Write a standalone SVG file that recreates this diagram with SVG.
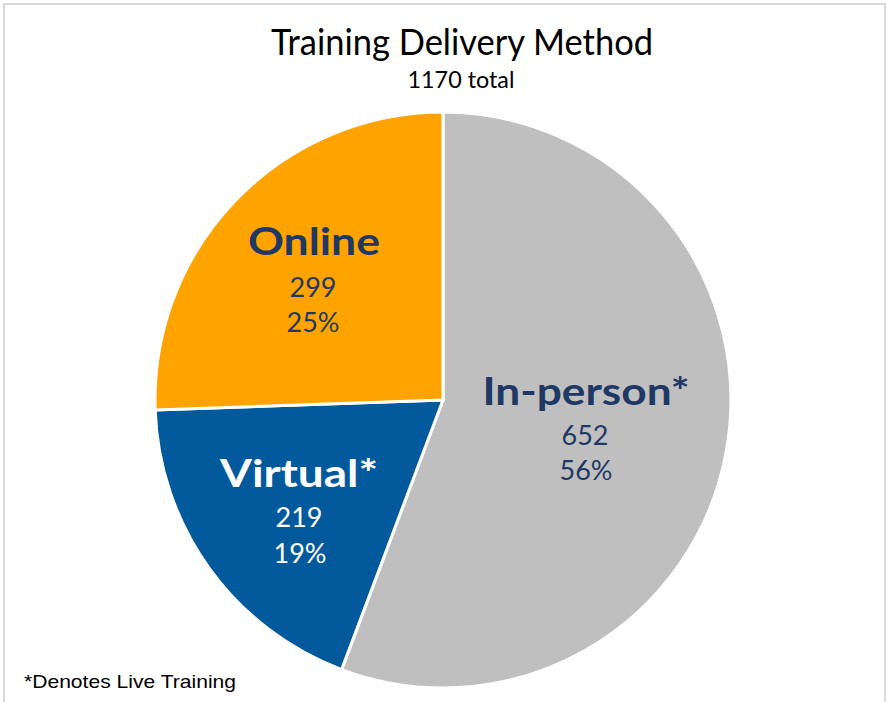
<svg xmlns="http://www.w3.org/2000/svg" width="886" height="702" viewBox="0 0 886 702">
<style>
.t{font-family:Lato,"Open Sans","Liberation Sans",sans-serif;text-anchor:middle}
.lbl{font-weight:bold;font-size:38px}
.num{font-size:27px}
.dark{fill:#1F3864}
.light{fill:#FFFFFF}
.slice{stroke:#FFFFFF;stroke-width:3;stroke-linejoin:miter}
</style>
<rect x="0" y="0" width="886" height="702" fill="#FFFFFF"/>
<rect x="4" y="4" width="881" height="710" fill="none" stroke="#D9D9D9" stroke-width="2"/>
<g id="title">
<text class="t" x="462" y="55" font-size="37" fill="#000" textLength="382" lengthAdjust="spacingAndGlyphs">Training Delivery Method</text>
<text class="t" x="461" y="88" font-size="24" fill="#000" textLength="107" lengthAdjust="spacingAndGlyphs">1170 total</text>
</g>
<g id="inperson">
<path class="slice" fill="#BFBFBF" d="M443,400 L443,112 A288,288 0 1 1 341.6,669.6 Z"/>
<text class="t lbl dark" x="586" y="405" textLength="207" lengthAdjust="spacingAndGlyphs">In-person*</text>
<text class="t num dark" x="585" y="445">652</text>
<text class="t num dark" x="586" y="480">56%</text>
</g>
<g id="virtual">
<path class="slice" fill="#02599C" d="M443,400 L341.6,669.6 A288,288 0 0 1 155.2,410.05 Z"/>
<text class="t lbl light" x="299" y="487" textLength="158" lengthAdjust="spacingAndGlyphs">Virtual*</text>
<text class="t num light" x="299" y="527">219</text>
<text class="t num light" x="300" y="563">19%</text>
</g>
<g id="online">
<path class="slice" fill="#FFA300" d="M443,400 L155.2,410.05 A288,288 0 0 1 443,112 Z"/>
<text class="t lbl dark" x="314" y="255" textLength="132" lengthAdjust="spacingAndGlyphs">Online</text>
<text class="t num dark" x="313" y="297">299</text>
<text class="t num dark" x="313" y="332">25%</text>
</g>
<g id="footnote">
<text x="24" y="688" font-family="Liberation Sans,Arial,sans-serif" font-size="19" fill="#000" textLength="212" lengthAdjust="spacingAndGlyphs">*Denotes Live Training</text>
</g>
</svg>
